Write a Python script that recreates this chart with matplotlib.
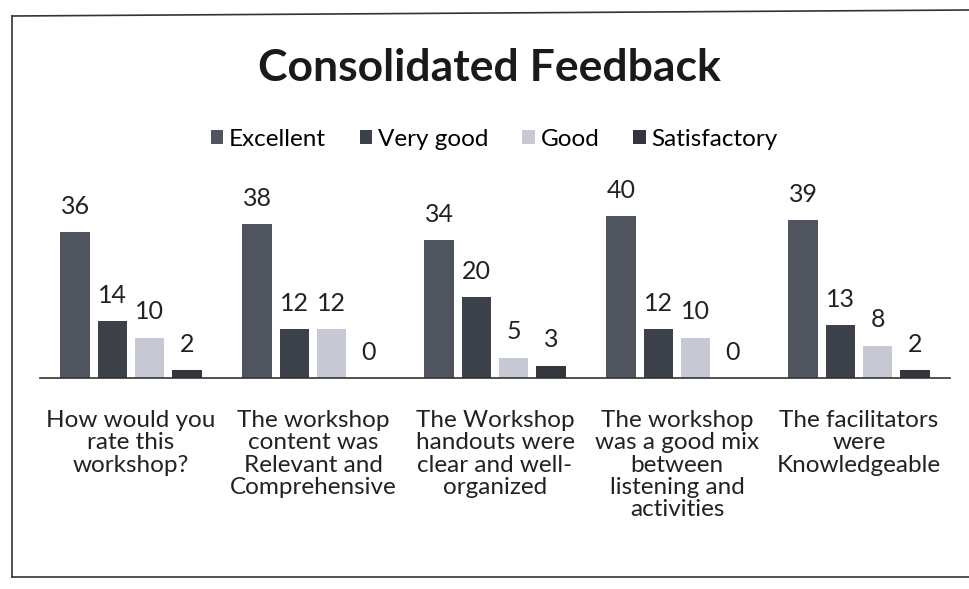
import numpy as np
import matplotlib.pyplot as plt
from matplotlib.lines import Line2D

plt.rcParams['font.family'] = ['Lato', 'DejaVu Sans']

categories = [
    "How would you\nrate this\nworkshop?",
    "The workshop\ncontent was\nRelevant and\nComprehensive",
    "The Workshop\nhandouts were\nclear and well-\norganized",
    "The workshop\nwas a good mix\nbetween\nlistening and\nactivities",
    "The facilitators\nwere\nKnowledgeable",
]
series_names = ["Excellent", "Very good", "Good", "Satisfactory"]
excellent = [36, 38, 34, 40, 39]
very_good = [14, 12, 20, 12, 13]
good = [10, 12, 5, 10, 8]
satisfactory = [2, 0, 3, 0, 2]

colors = ["#50545f", "#3b4049", "#c6c9d3", "#33373d"]
values = [excellent, very_good, good, satisfactory]

W, H = 969, 589
fig = plt.figure(figsize=(W / 100, H / 100), dpi=100)
ax = fig.add_axes([40 / W, (H - 378) / H, 910 / W, 182 / H])

x = np.arange(len(categories))
step = 0.205
width = 0.16
for i, (name, vals, c) in enumerate(zip(series_names, values, colors)):
    pos = x + (i - 1.5) * step
    ax.bar(pos, vals, width, color=c, label=name)
    for p, v in zip(pos, vals):
        ax.text(p, v + 6.4, str(v), ha="center", va="center", fontsize=18, color="#222222")

ax.set_xlim(-0.5, len(categories) - 0.5)
ax.set_ylim(0, 45)
ax.set_yticks([])
ax.set_xticks([])
for s in ["top", "right", "left"]:
    ax.spines[s].set_visible(False)
ax.spines["bottom"].set_color("#333333")
ax.spines["bottom"].set_linewidth(1.2)

for xi, lab in zip(x, categories):
    ax.text(xi, -7.9, lab, ha="center", va="top", fontsize=17.5, color="#222222",
            linespacing=1.08)

fig.text(0.505, (H - 68) / H, "Consolidated Feedback", ha="center", va="center",
         fontsize=32, fontweight="bold", color="#1a1a1a")

handles, labels = ax.get_legend_handles_labels()
fig.legend(handles, labels, loc="center", bbox_to_anchor=(0.51, (H - 139) / H), ncol=4,
           frameon=False, fontsize=17.5, handlelength=0.5, handleheight=0.5,
           handletextpad=0.25, columnspacing=1.4)

# scanned border lines
fig.add_artist(Line2D([12 / W, 1], [(H - 16) / H, (H - 10) / H], color="#333333", lw=1.2))
fig.add_artist(Line2D([12 / W, 12 / W], [(H - 16) / H, 12 / H], color="#333333", lw=1.2))
fig.add_artist(Line2D([12 / W, 1], [12 / H, 12 / H], color="#333333", lw=1.2))

fig.savefig("out.png", dpi=100, facecolor="white")
